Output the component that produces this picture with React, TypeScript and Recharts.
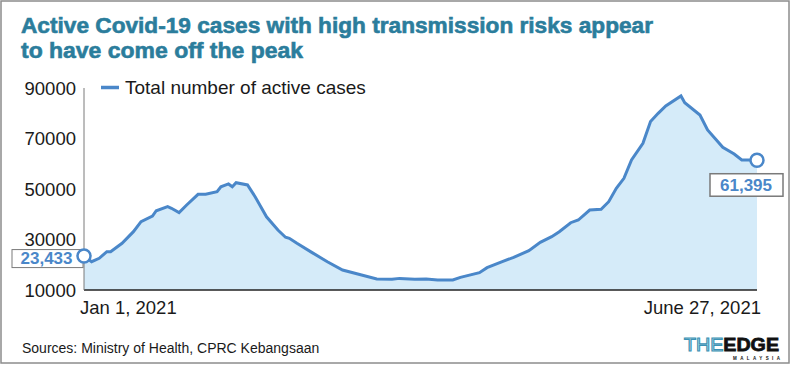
import React from "react";
import {Area, ComposedChart, ReferenceDot, XAxis, YAxis} from "recharts";

// day index since Jan 1, 2021
const days = [0, 2, 4, 6, 7, 10, 13, 15, 18, 19, 22, 23, 25, 27, 30, 32, 35, 36, 38, 39, 40, 43, 45, 48, 51, 53, 54, 56, 60, 64, 68, 73, 77, 81, 83, 87, 90, 93, 97, 99, 104, 106, 110, 113, 117, 120, 123, 125, 128, 130, 133, 136, 138, 140, 142, 144, 147, 149, 151, 153, 157, 158, 162, 164, 168, 171, 173, 175, 176, 177];
const activeCases = [23433, 21200, 22550, 25170, 25170, 28500, 33100, 37050, 39300, 41400, 43000, 42350, 40650, 43660, 47900, 47900, 48950, 50900, 52000, 50900, 52500, 51600, 46950, 39000, 33760, 30900, 30450, 28500, 24800, 21200, 17900, 15940, 14360, 14230, 14600, 14230, 14360, 14000, 13960, 15000, 16850, 18830, 21200, 22950, 25560, 28870, 31110, 33100, 36650, 37720, 41680, 41950, 44970, 50260, 54220, 61500, 68100, 76700, 79960, 82870, 86830, 84200, 79300, 73370, 66500, 63860, 61490, 61490, 60820, 61395];
const yTicks = [10000, 30000, 50000, 70000, 90000];
const xLabels = ["Jan 1, 2021", "June 27, 2021"];
const seriesName = "Total number of active cases";
const titleLines = ["Active Covid-19 cases with high transmission risks appear", "to have come off the peak"];
const source = "Sources: Ministry of Health, CPRC Kebangsaan";

const FONT = "'Liberation Sans', Arial, Helvetica, sans-serif";
const BLUE = "#4a87c9";
const FILL = "#d5ebf9";
const TITLE = "#2b7d9c";

const data = days.map((d, i) => ({day: d, cases: activeCases[i]}));
const last = data.length - 1;

const XTick = (props: any) => {
	const {x, y, payload} = props;
	const first = payload.value === days[0];
	return <text x={first ? x - 4 : x + 4} y={y + 16} textAnchor={first ? "start" : "end"}
							 fontSize={18.5} fill="#1a1a1a" fontFamily={FONT}>
		{first ? xLabels[0] : xLabels[1]}
	</text>
};

const StartMarker = (props: any) => {
	const {cx, cy} = props;
	return <g>
		<rect x={12} y={cy - 6.5} width={cx - 13} height={18} fill="#fff" stroke="#7a7a7a" strokeWidth={1}/>
		<text x={(12 + cx - 1) / 2 - 1} y={cy + 8} textAnchor="middle" fontSize={17} fontWeight="bold"
					fill={BLUE} fontFamily={FONT}>{activeCases[0].toLocaleString("en-US")}</text>
		<circle cx={cx} cy={cy} r={6.5} fill="#fff" stroke={BLUE} strokeWidth={2.5}/>
	</g>
};

const EndMarker = (props: any) => {
	const {cx, cy} = props;
	return <g>
		<rect x={cx - 47} y={cy + 13.5} width={73} height={22.5} fill="#fff" stroke="#7a7a7a" strokeWidth={1.5}/>
		<text x={cx - 11} y={cy + 31} textAnchor="middle" fontSize={17} fontWeight="bold"
					fill={BLUE} fontFamily={FONT}>{activeCases[last].toLocaleString("en-US")}</text>
		<circle cx={cx} cy={cy} r={6.5} fill="#fff" stroke={BLUE} strokeWidth={2.5}/>
	</g>
};

export default function App() {
	return <div style={{position: "absolute", left: 0, top: 0, width: 792, height: 365, background: "#fff"}}>
		<ComposedChart width={792} height={365} data={data} margin={{top: 88, right: 35, bottom: 45, left: 14}}
									 style={{fontFamily: FONT}}>
			<XAxis dataKey="day" type="number" domain={[days[0], days[last]]} ticks={[days[0], days[last]]}
						 height={30} tickLine={false} axisLine={{stroke: "#222", strokeWidth: 1.5}} tick={<XTick/>}/>
			<YAxis type="number" domain={[10000, 90000]} ticks={yTicks} interval={0} width={70} tickLine={false}
						 axisLine={{stroke: "#7a7a7a"}} tick={{fontSize: 18.5, fill: "#1a1a1a", fontFamily: FONT}}/>
			<Area type="linear" dataKey="cases" stroke={BLUE} strokeWidth={3} fill={FILL} fillOpacity={1}
						dot={false} activeDot={false} isAnimationActive={false}/>
			<ReferenceDot x={days[0]} y={activeCases[0]} r={6} shape={StartMarker}/>
			<ReferenceDot x={days[last]} y={activeCases[last]} r={6} shape={EndMarker}/>
		</ComposedChart>
		<svg width={792} height={365} style={{position: "absolute", left: 0, top: 0, pointerEvents: "none"}}>
			<rect x={1} y={1} width={788} height={362} fill="none" stroke="#8c8c8c" strokeWidth={1.5}/>
			<text x={21} y={33} fontSize={22} fontWeight="bold" fill={TITLE} stroke={TITLE} strokeWidth={0.6}
						fontFamily={FONT} textLength={632} lengthAdjust="spacingAndGlyphs">{titleLines[0]}</text>
			<text x={21} y={58} fontSize={22} fontWeight="bold" fill={TITLE} stroke={TITLE} strokeWidth={0.6}
						fontFamily={FONT} textLength={282} lengthAdjust="spacingAndGlyphs">{titleLines[1]}</text>
			<line x1={101} x2={119} y1={87.5} y2={87.5} stroke={BLUE} strokeWidth={3.5}/>
			<text x={125} y={94} fontSize={19} fill="#1a1a1a" fontFamily={FONT}>{seriesName}</text>
			<text x={22} y={353} fontSize={14} fill="#1a1a1a" fontFamily={FONT}>{source}</text>
			<text x={684} y={351} fontSize={19} fontFamily={FONT} textLength={95} lengthAdjust="spacingAndGlyphs">
				<tspan fill="#fff" stroke="#3b93b5" strokeWidth={1.2}>THE</tspan>
				<tspan fontWeight="bold" fill="#111" stroke="#111" strokeWidth={0.8}>EDGE</tspan>
			</text>
			<text x={733} y={360} fontSize={4.5} fontWeight="bold" fill="#111" fontFamily={FONT}
						textLength={47} lengthAdjust="spacing">MALAYSIA</text>
		</svg>
	</div>
}
